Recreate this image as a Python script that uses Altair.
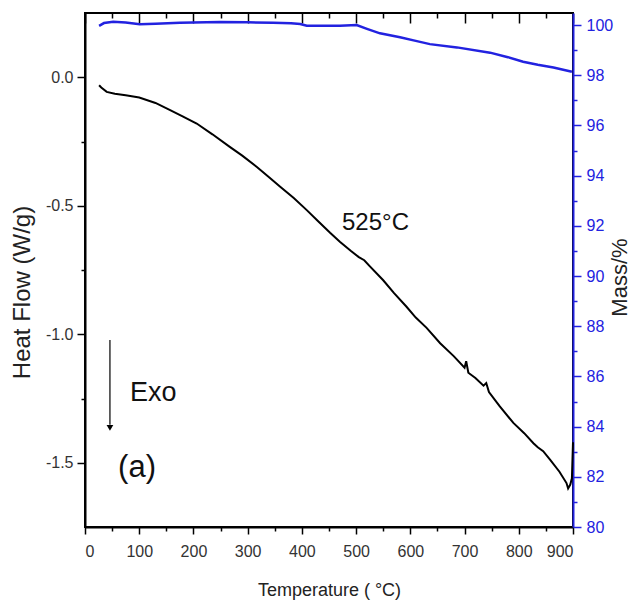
import altair as alt
import pandas as pd

# ---- data ----
heat_T = [26, 30, 40, 55, 75, 100, 130, 157, 180, 206, 235, 267, 290, 317, 340, 360,
          385, 409, 430, 452, 470, 490, 505, 515, 525, 550, 570, 593, 610, 630, 655,
          680, 700, 703, 707, 720, 735, 740, 745, 765, 790, 810, 827, 835, 845, 858,
          875, 888, 891, 895, 898, 900]
heat_V = [-0.031, -0.040, -0.057, -0.064, -0.070, -0.079, -0.100, -0.128, -0.152, -0.180,
          -0.222, -0.271, -0.305, -0.349, -0.390, -0.426, -0.470, -0.517, -0.560, -0.605,
          -0.640, -0.675, -0.700, -0.712, -0.735, -0.790, -0.840, -0.893, -0.935, -0.975,
          -1.035, -1.085, -1.130, -1.105, -1.150, -1.170, -1.200, -1.190, -1.225, -1.281,
          -1.345, -1.385, -1.424, -1.440, -1.455, -1.489, -1.535, -1.579, -1.600, -1.585,
          -1.560, -1.420]

mass_T = [26, 35, 52, 75, 101, 130, 175, 249, 300, 347, 380, 397, 409, 470, 501, 520,
          544, 581, 610, 636, 686, 747, 780, 808, 835, 864, 898]
mass_V = [99.97, 100.08, 100.13, 100.10, 100.03, 100.05, 100.09, 100.12, 100.11, 100.09,
          100.07, 100.04, 99.97, 99.97, 100.0, 99.85, 99.67, 99.51, 99.37, 99.24, 99.11,
          98.90, 98.72, 98.54, 98.42, 98.31, 98.14]

x_ticks = [0, 50, 100, 150, 200, 250, 300, 350, 400, 450, 500, 550, 600, 650, 700, 750,
           800, 850, 900]
left_ticks = [-1.5, -1.25, -1.0, -0.75, -0.5, -0.25, 0.0]
right_ticks = [80, 81, 82, 83, 84, 85, 86, 87, 88, 89, 90, 91, 92, 93, 94, 95, 96, 97,
               98, 99, 100]

notes_T = [474, 83, 61]
notes_V = [-0.567, -1.228, -1.52]
notes_text = ["525°C", "Exo", "(a)"]
notes_size = [24, 27, 31]

arrow_T = [46]
arrow_top = [-1.022]
arrow_bottom = [-1.352]
arrow_head = [-1.364]

FONT = "Liberation Sans"
BLUE = "#2222e0"

heat_df = pd.DataFrame({"T": heat_T, "V": heat_V})
mass_df = pd.DataFrame({"T": mass_T, "M": mass_V})
notes_df = pd.DataFrame({"T": notes_T, "V": notes_V, "text": notes_text, "size": notes_size})
arrow_df = pd.DataFrame({"T": arrow_T, "top": arrow_top, "bottom": arrow_bottom, "head": arrow_head})

xscale = alt.Scale(domain=[0, 900], nice=False, zero=False)
yscale = alt.Scale(domain=[-1.75, 0.25], nice=False, zero=False)
mscale = alt.Scale(domain=[80, 100.48], nice=False, zero=False)

MINUS = "\u2212"

x_axis = alt.Axis(
    orient="bottom",
    values=x_ticks,
    labelExpr="datum.value % 100 === 0 ? datum.label : ''",
    tickSize={"condition": {"test": "datum.value % 100 === 0", "value": 7}, "value": 4},
    title="Temperature ( °C)",
    titleX=244, titleY=63, titleAlign="center", titleBaseline="middle",
    titleFontSize=18, titleFontWeight="normal", titleColor="#222",
    labelFontSize=16, labelColor="#333", labelPadding=9, labelFont=FONT, titleFont=FONT,
    domainColor="black", domainWidth=2, tickColor="black", tickWidth=1.5, grid=False,
)

y_axis = alt.Axis(
    orient="left",
    values=left_ticks,
    labelExpr="abs(datum.value % 0.5) < 0.001 ? replace(format(datum.value, '.1f'), '" + MINUS + "', '-') : ''",
    tickSize={"condition": {"test": "abs(datum.value % 0.5) < 0.001", "value": 8}, "value": 4},
    title="Heat Flow (W/g)",
    titleX=-63, titleY=279, titleAlign="center", titleBaseline="middle", titleAngle=270,
    titleFontSize=24, titleFontWeight="normal", titleColor="#222",
    labelFontSize=16, labelColor="#333", labelPadding=4, labelFont=FONT, titleFont=FONT,
    domainColor="black", domainWidth=2, tickColor="black", tickWidth=1.5, grid=False,
)

m_axis = alt.Axis(
    orient="right",
    values=right_ticks,
    labelExpr="datum.value % 2 === 0 ? datum.label : ''",
    tickSize={"condition": {"test": "datum.value % 2 === 0", "value": 8}, "value": 4},
    title="Mass/%",
    titleX=46, titleY=264, titleAlign="center", titleBaseline="middle", titleAngle=270,
    titleFontSize=22, titleFontWeight="normal", titleColor="#222",
    labelFontSize=16, labelColor=BLUE, labelPadding=5, labelFont=FONT, titleFont=FONT,
    domainColor=BLUE, domainWidth=2, tickColor=BLUE, tickWidth=1.5, grid=False,
)

top_axis = alt.Axis(
    orient="top",
    values=x_ticks,
    labels=False,
    domain=False,
    tickSize={"condition": {"test": "datum.value % 100 === 0", "value": -10}, "value": -5},
    tickColor="black", tickWidth=1.5, title=None, grid=False,
)

heat = alt.Chart(heat_df).mark_line(color="black", strokeWidth=2).encode(
    x=alt.X("T:Q", scale=xscale, axis=x_axis),
    y=alt.Y("V:Q", scale=yscale, axis=y_axis),
)

mass = alt.Chart(mass_df).mark_line(color=BLUE, strokeWidth=2.5).encode(
    x=alt.X("T:Q", scale=xscale, axis=top_axis),
    y=alt.Y("M:Q", scale=mscale, axis=m_axis),
)

notes = alt.Chart(notes_df).mark_text(font=FONT, color="#111", align="left", baseline="middle").encode(
    x=alt.X("T:Q", scale=xscale, axis=None),
    y=alt.Y("V:Q", scale=yscale, axis=None),
    text="text:N",
    size=alt.Size("size:Q", scale=None, legend=None),
)

arrow_line = alt.Chart(arrow_df).mark_rule(color="black", strokeWidth=1.2).encode(
    x=alt.X("T:Q", scale=xscale, axis=None),
    y=alt.Y("top:Q", scale=yscale, axis=None),
    y2="bottom:Q",
)

arrow_tip = alt.Chart(arrow_df).mark_point(shape="triangle-down", filled=True, size=45,
                                            color="black", opacity=1).encode(
    x=alt.X("T:Q", scale=xscale, axis=None),
    y=alt.Y("head:Q", scale=yscale, axis=None),
)

chart = alt.layer(heat, mass, notes, arrow_line, arrow_tip).resolve_scale(
    y="independent"
).resolve_axis(x="independent", y="independent").properties(
    width=488, height=514,
    autosize=alt.AutoSizeParams(type="none"),
    padding={"left": 77, "top": 5, "right": 57, "bottom": 75},
    background="white",
).configure_view(stroke="black", strokeWidth=2)

chart.save("out.html", embed_options={"renderer": "svg", "actions": False})
